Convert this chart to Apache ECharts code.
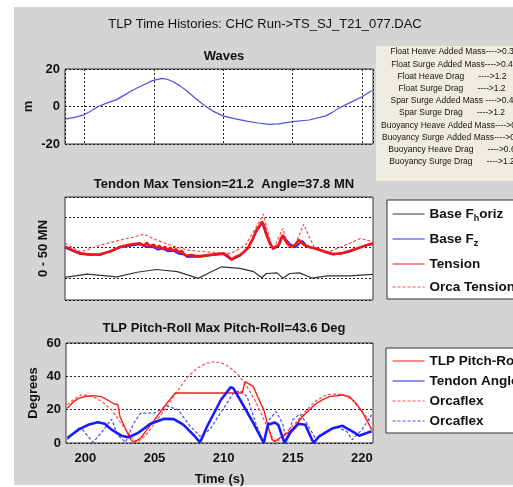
<!DOCTYPE html>
<html>
<head>
<meta charset="utf-8">
<script src="https://cdn.jsdelivr.net/npm/echarts@6/dist/echarts.min.js"></script>
<style>
html, body { margin: 0; padding: 0; background: #fff; }
#main { width: 513px; height: 487px; }
</style>
</head>
<body>
<div id="main"></div>
<script>
var myChart = echarts.init(document.getElementById('main'));

// time range of all three panels (s)
var tMin = 198.6, tMax = 220.8;

// panel 1: wave elevation (m)
var waves = [[198.6,-6.7],[199.3,-5.8],[199.95,-4.5],[200.5,-2.3],[201.0,0],[201.6,1.8],[202.35,3.8],[203.0,6.6],
    [203.5,8.8],[204.2,11.3],[204.9,13.8],[205.6,15.0],[206.0,14.4],[206.4,13.2],[206.9,11.0],[207.3,8.8],[208.0,4.4],
    [208.7,0.3],[209.3,-2.6],[210.0,-5.0],[210.8,-6.5],[211.6,-7.7],[212.5,-8.8],[213.3,-9.5],[214.0,-9.3],[215.0,-8.1],
    [216.2,-7.2],[217.4,-5.0],[217.9,-3.0],[218.3,-1.0],[219.3,2.6],[220.0,5.2],[220.7,8.4]];

// panel 2: tendon forces (MN)
var baseFh = [[198.6,0.2],[200.2,1.3],[202.35,0.4],[203.8,1.9],[205.2,2.8],[206.7,2.1],[208.2,-0.1],[209.1,2.0],[209.9,3.7],
    [211.2,3.2],[212.2,2.1],[212.8,0.1],[213.1,1.5],[213.9,1.7],[214.3,-0.1],[214.8,1.5],[215.5,1.7],[216.4,0],[217.5,0.7],
    [219.1,0.7],[220.8,1.2]];
var baseFz = [[198.6,10.0],[199.7,7.9],[201.15,7.6],[202.6,10.1],[204.0,11.1],[204.5,10.2],[205.0,10.1],[205.3,9.3],[205.6,9.8],
    [206.0,8.8],[206.4,9.0],[206.8,8.0],[207.2,7.7],[207.4,6.9],[207.8,7.1],[208.3,7.0],[208.8,7.3],[209.6,7.7],[210.0,7.9],
    [210.6,6.0],[211.2,7.3],[211.8,9.8],[212.4,15.4],[212.8,18.2],[213.1,14.3],[213.6,9.5],[214.0,10.6],[214.3,13.8],[214.8,11.2],
    [215.2,10.1],[215.7,12.2],[216.0,10.6],[216.7,9.5],[217.9,7.7],[218.6,8.1],[219.1,8.6],[219.8,10.0],[220.3,10.8],[220.8,11.1]];
var tension = [[198.6,10.3],[199.2,9.0],[199.7,8.1],[200.4,7.7],[201.15,7.8],[201.9,8.8],[202.6,10.3],[203.3,11.0],[204.0,11.4],
    [204.3,10.6],[204.5,11.6],[204.7,10.4],[205.0,10.9],[205.2,9.8],[205.4,10.6],[205.6,9.5],[205.8,10.2],[206.0,9.2],[206.2,9.9],
    [206.4,8.8],[206.6,9.5],[206.8,8.4],[207.0,8.9],[207.2,7.8],[207.4,7.3],[207.7,7.6],[208.0,7.3],[208.4,7.2],[208.8,7.5],
    [209.2,7.7],[209.6,7.9],[210.0,8.1],[210.3,7.4],[210.6,6.1],[210.9,7.0],[211.2,7.5],[211.5,8.6],[211.8,10.0],[212.1,12.5],
    [212.4,15.7],[212.6,17.0],[212.8,18.5],[212.95,17.2],[213.1,14.6],[213.35,11.5],[213.6,9.7],[213.8,10.3],[214.0,10.8],
    [214.15,12.8],[214.3,14.1],[214.45,12.6],[214.6,11.4],[214.8,10.8],[215.0,10.3],[215.2,11.0],[215.45,12.5],[215.7,11.4],
    [215.85,10.8],[216.0,10.5],[216.3,10.0],[216.7,9.7],[217.3,8.7],[217.9,7.9],[218.5,8.1],[219.1,8.9],[219.6,9.6],[220.1,10.4],
    [220.5,11.0],[220.8,11.4]];
var orcaTension = [[198.6,11.4],[199.7,8.6],[200.4,9.6],[201.15,10.8],[202.6,12.5],[203.5,13.4],[204.3,14.4],[205.2,12.5],[206.4,10.5],
    [207.4,9.2],[208.8,8.6],[209.7,8.3],[210.6,8.1],[211.6,10.8],[212.4,16.8],[212.9,21.0],[213.2,15.2],[213.6,9.2],[214.3,16.3],
    [214.7,10.0],[215.2,10.8],[215.8,17.7],[216.1,14.6],[216.6,9.7],[217.6,8.6],[218.8,10.8],[219.9,13.0],[220.8,11.9]];

// panel 3: pitch-roll and tendon angle (deg)
var pitchRoll = [[198.7,20.9],[199.1,24.5],[199.5,26.8],[200.0,27.9],[200.55,28.4],[201.15,27.8],[201.6,25.8],[202.1,23.4],
    [202.35,23.2],[202.5,15.9],[202.9,8.5],[203.3,2.0],[203.5,0.4],[204.0,3.0],[204.5,8.5],[205.0,13.9],[205.5,19.5],[206.0,25.0],
    [206.5,30.0],[211.35,30.0],[211.4,30.8],[211.55,36.8],[212.15,33.8],[212.5,27.0],[212.9,19.9],[213.2,10.5],[213.5,2.0],
    [213.7,1.0],[214.05,3.0],[214.8,7.0],[215.2,10.5],[215.7,15.9],[216.2,20.0],[216.7,23.8],[217.2,26.2],[217.65,27.8],
    [218.6,28.8],[219.1,27.8],[219.6,23.5],[220.0,18.9],[220.4,13.0],[220.7,8.0]];
var tendonAngle = [[198.7,3.0],[199.5,8.0],[200.2,10.9],[200.9,12.5],[201.4,11.5],[201.9,8.0],[202.6,4.4],[203.1,3.4],[203.8,6.0],
    [204.7,11.5],[205.7,14.5],[206.4,14.3],[207.1,10.9],[207.8,5.0],[208.3,0.4],[208.8,9.9],[209.8,25.8],[210.5,33.4],[210.7,32.8],
    [211.2,25.8],[212.15,11.9],[212.9,0],[213.2,10.9],[213.7,12.3],[213.95,10.9],[214.4,0],[214.8,6.0],[215.4,11.5],[215.9,10.9],
    [216.5,0],[216.9,4.0],[217.9,8.9],[218.6,10.3],[219.3,7.0],[219.8,4.4],[220.7,7.0]];
var orcaPitch = [[198.7,22.9],[199.2,26.5],[199.7,28.8],[200.1,28.6],[200.55,27.8],[201.2,24.8],[201.9,19.9],[202.5,12.8],[203.1,6.0],
    [203.7,0.4],[204.1,2.5],[204.5,6.0],[205.2,14.0],[205.9,21.9],[206.6,30.5],[207.4,39.7],[208.1,45.0],[208.8,48.0],[209.3,48.7],
    [209.8,48.2],[210.3,46.2],[210.7,43.7],[211.2,39.5],[211.7,33.8],[212.2,26.5],[212.6,19.9],[213.1,10.5],[213.6,2.0],[213.8,0.4],
    [214.1,2.5],[214.5,6.0],[215.2,12.0],[216.0,19.9],[216.7,25.5],[217.4,28.8],[218.0,29.4],[218.4,29.2],[218.9,28.0],[219.3,25.8],
    [219.8,21.0],[220.3,16.0],[220.7,11.9]];
var orcaAngle = [[198.7,2.0],[199.5,8.9],[199.8,8.0],[200.55,0.4],[201.15,6.0],[201.9,14.3],[202.3,5.0],[202.9,0.4],[203.5,11.9],
    [204.0,17.9],[205.0,17.9],[205.9,22.3],[206.7,19.9],[207.6,9.9],[208.3,4.0],[209.0,8.0],[210.0,20.9],[210.7,29.8],[211.2,31.4],
    [211.7,27.8],[212.4,9.9],[212.9,0.4],[213.3,13.9],[213.8,18.9],[214.3,10.9],[214.5,1.0],[215.0,13.9],[215.5,17.5],[216.0,11.9],
    [216.7,2.0],[217.4,7.0],[218.1,9.9],[218.9,7.0],[219.3,2.0],[220.0,8.0],[220.7,16.9]];

// parameter box text
var params = ['Float Heave Added Mass---->0.3', 'Float Surge Added Mass---->0.4', 'Float Heave Drag      ---->1.2',
    'Float Surge Drag      ---->1.2', 'Spar Surge Added Mass ---->0.4', 'Spar Surge Drag      ---->1.2',
    'Buoyancy Heave Added Mass---->0.3', 'Buoyancy Surge Added Mass---->0.4', 'Buoyancy Heave Drag      ---->0.6',
    'Buoyancy Surge Drag      ---->1.2'];

var font = 'Arial, "Liberation Sans", sans-serif';
var dotted = { color: '#222', type: [2, 2], width: 1 };
var boldLabel = { fontFamily: font, fontWeight: 'bold', fontSize: 13, color: '#111' };

function timeAxis(idx, showLabels) {
    return {
        type: 'value', gridIndex: idx, min: tMin, max: tMax, splitNumber: 5,
        axisLine: { show: false },
        axisTick: { show: false },
        axisLabel: {
            show: showLabels, margin: 9, showMinLabel: false, showMaxLabel: false,
            fontFamily: font, fontWeight: 'bold', fontSize: 13, color: '#111',
            formatter: function (v) { return v % 5 === 0 ? v : ''; }
        },
        splitLine: { show: idx === 0, lineStyle: dotted },
        name: showLabels ? 'Time (s)' : '', nameLocation: 'middle', nameGap: 30,
        nameTextStyle: boldLabel
    };
}

option = {
    backgroundColor: '#fff',
    animation: false,
    graphic: [{
        type: 'rect', left: 14, top: 7, z: -10,
        shape: { width: 499, height: 478 },
        style: { fill: '#d4d4d4' }
    }, {
        type: 'rect', left: 376, top: 46, z: -5,
        shape: { width: 140, height: 135 },
        style: { fill: '#efede2' }
    }].concat(params.map(function (p, i) {
        return {
            type: 'text', x: 452, y: 52 + i * 12.2, z: 5,
            style: { text: p, textAlign: 'center', textVerticalAlign: 'middle', fill: '#111', font: '8.5px ' + font }
        };
    })),
    title: [{
        text: 'TLP Time Histories: CHC Run->TS_SJ_T21_077.DAC', left: 260, top: 13, textAlign: 'center',
        textStyle: { fontFamily: font, fontWeight: 'normal', fontSize: 13, color: '#111' }
    }, {
        text: 'Waves', left: 219, top: 45, textAlign: 'center', textStyle: boldLabel
    }, {
        text: 'Tendon Max Tension=21.2  Angle=37.8 MN', left: 219, top: 173, textAlign: 'center', textStyle: boldLabel
    }, {
        text: 'TLP Pitch-Roll Max Pitch-Roll=43.6 Deg', left: 219, top: 317, textAlign: 'center', textStyle: boldLabel
    }],
    legend: [{
        data: ['Base Fhoriz', 'Base Fz', 'Tension', 'Orca Tension'],
        orient: 'vertical', left: 387, top: 200,
        itemWidth: 32, itemHeight: 14, itemGap: 9,
        padding: [7, 40, 5, 5],
        backgroundColor: '#fff', borderColor: '#333', borderWidth: 1, borderRadius: 0,
        selectedMode: false,
        itemStyle: { opacity: 0, borderWidth: 0 },
        lineStyle: { width: 1.2 },
        formatter: function (name) {
            if (name === 'Base Fhoriz') return 'Base F{sub|h}oriz';
            if (name === 'Base Fz') return 'Base F{sub|z}';
            return name;
        },
        textStyle: {
            fontFamily: font, fontWeight: 'bold', fontSize: 13.5, color: '#111',
            rich: { sub: { fontFamily: font, fontWeight: 'bold', fontSize: 9, color: '#111', padding: [9, 0, 0, 0] } }
        }
    }, {
        data: ['TLP Pitch-Roll', 'Tendon Angle', 'Orcaflex', 'Orcaflex '],
        orient: 'vertical', left: 386, top: 348,
        itemWidth: 32, itemHeight: 14, itemGap: 6,
        padding: [6, 40, 5, 6],
        backgroundColor: '#fff', borderColor: '#333', borderWidth: 1, borderRadius: 0,
        selectedMode: false,
        itemStyle: { opacity: 0, borderWidth: 0 },
        lineStyle: { width: 1.2 },
        textStyle: { fontFamily: font, fontWeight: 'bold', fontSize: 13.5, color: '#111' }
    }],
    grid: [
        { left: 65, top: 69, width: 308, height: 75, show: true, backgroundColor: '#fff', borderColor: '#333', borderWidth: 1 },
        { left: 65, top: 197, width: 308, height: 103, show: true, backgroundColor: '#fff', borderColor: '#333', borderWidth: 1 },
        { left: 66, top: 343, width: 307, height: 100, show: true, backgroundColor: '#fff', borderColor: '#333', borderWidth: 1 }
    ],
    xAxis: [timeAxis(0, false), timeAxis(1, false), timeAxis(2, true)],
    yAxis: [{
        type: 'value', gridIndex: 0, min: -20, max: 20, interval: 20,
        axisLine: { show: false }, axisTick: { show: false },
        axisLabel: { margin: 5, fontFamily: font, fontWeight: 'bold', fontSize: 13, color: '#111' },
        splitLine: { lineStyle: dotted },
        name: 'm', nameLocation: 'middle', nameGap: 30, nameMoveOverlap: false, nameTextStyle: boldLabel
    }, {
        type: 'value', gridIndex: 1, min: -7.2, max: 26.6, splitNumber: 3,
        axisLine: { show: false }, axisTick: { show: false },
        axisLabel: { show: false },
        splitLine: { lineStyle: dotted },
        name: '0 - 50 MN', nameLocation: 'middle', nameGap: 15, nameMoveOverlap: false, nameTextStyle: boldLabel
    }, {
        type: 'value', gridIndex: 2, min: 0, max: 60, interval: 20,
        axisLine: { show: false }, axisTick: { show: false },
        axisLabel: { margin: 5, fontFamily: font, fontWeight: 'bold', fontSize: 13, color: '#111' },
        splitLine: { lineStyle: dotted },
        name: 'Degrees', nameLocation: 'middle', nameGap: 26, nameMoveOverlap: false, nameTextStyle: boldLabel
    }],
    series: [{
        name: 'Waves', type: 'line', xAxisIndex: 0, yAxisIndex: 0, data: waves,
        symbol: 'none', lineStyle: { color: '#5050d8', width: 1.2 }, itemStyle: { color: '#5050d8' }
    }, {
        name: 'Base Fhoriz', type: 'line', xAxisIndex: 1, yAxisIndex: 1, data: baseFh,
        symbol: 'none', lineStyle: { color: '#333', width: 1.2 }, itemStyle: { color: '#333' }
    }, {
        name: 'Base Fz', type: 'line', xAxisIndex: 1, yAxisIndex: 1, data: baseFz,
        symbol: 'none', lineStyle: { color: '#2a2aff', width: 2 }, itemStyle: { color: '#2a2aff' }
    }, {
        name: 'Orca Tension', type: 'line', xAxisIndex: 1, yAxisIndex: 1, data: orcaTension,
        symbol: 'none', lineStyle: { color: '#ff4a4a', width: 1.2, type: [3, 2] }, itemStyle: { color: '#ff4a4a' }
    }, {
        name: 'Tension', type: 'line', xAxisIndex: 1, yAxisIndex: 1, data: tension,
        symbol: 'none', lineStyle: { color: '#ff1010', width: 2.6 }, itemStyle: { color: '#ff1010' }
    }, {
        name: 'Orcaflex', type: 'line', xAxisIndex: 2, yAxisIndex: 2, data: orcaPitch,
        symbol: 'none', lineStyle: { color: '#ff4a4a', width: 1.2, type: [3, 2] }, itemStyle: { color: '#ff4a4a' }
    }, {
        name: 'Orcaflex ', type: 'line', xAxisIndex: 2, yAxisIndex: 2, data: orcaAngle,
        symbol: 'none', lineStyle: { color: '#4a4aff', width: 1.2, type: [3, 2] }, itemStyle: { color: '#4a4aff' }
    }, {
        name: 'TLP Pitch-Roll', type: 'line', xAxisIndex: 2, yAxisIndex: 2, data: pitchRoll,
        symbol: 'none', lineStyle: { color: '#ff1a1a', width: 1.4 }, itemStyle: { color: '#ff1a1a' }
    }, {
        name: 'Tendon Angle', type: 'line', xAxisIndex: 2, yAxisIndex: 2, data: tendonAngle,
        symbol: 'none', lineStyle: { color: '#1a1aff', width: 2.6 }, itemStyle: { color: '#1a1aff' }
    }]
};
myChart.setOption(option);
</script>
</body>
</html>
